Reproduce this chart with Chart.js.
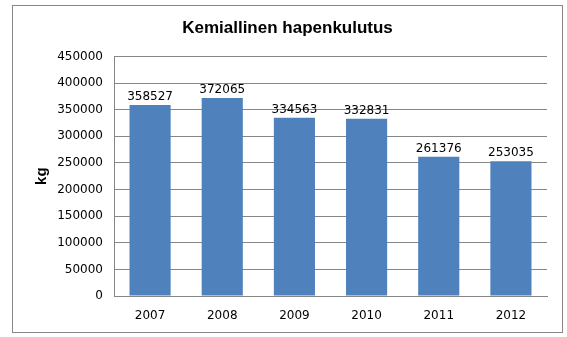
<!DOCTYPE html>
<html>
<head>
<meta charset="utf-8">
<script src="https://cdn.jsdelivr.net/npm/chart.js@4.4.1/dist/chart.umd.min.js"></script>
<style>
  html, body { margin: 0; padding: 0; background: #fff; }
  #box { position: absolute; left: 12px; top: 5px; width: 549px; height: 326px; border: 1px solid #888; box-sizing: content-box; }
  #box canvas { display: block; }
</style>
</head>
<body>
<div id="box"><canvas id="c" width="549" height="326"></canvas></div>
<script>
const categories = ["2007", "2008", "2009", "2010", "2011", "2012"];
const values = [358527, 372065, 334563, 332831, 261376, 253035];
const titleText = "Kemiallinen hapenkulutus";
const yAxisTitle = "kg";

const labelPlugin = {
  id: 'barLabels',
  afterDatasetsDraw(chart) {
    const ctx = chart.ctx;
    const meta = chart.getDatasetMeta(0);
    ctx.save();
    ctx.font = '12px "DejaVu Sans"';
    ctx.fillStyle = '#000';
    ctx.textAlign = 'center';
    ctx.textBaseline = 'bottom';
    meta.data.forEach((bar, i) => {
      ctx.fillText(String(values[i]), bar.x, bar.y - 2);
    });
    ctx.restore();
  }
};

new Chart(document.getElementById('c'), {
  type: 'bar',
  data: {
    labels: categories,
    datasets: [{
      data: values,
      backgroundColor: '#4F81BD',
      borderWidth: 0,
      categoryPercentage: 1,
      barPercentage: 0.57
    }]
  },
  options: {
    responsive: false,
    animation: false,
    layout: { padding: { left: 15, right: 15, top: 0, bottom: 0 } },
    plugins: {
      legend: { display: false },
      tooltip: { enabled: false },
      title: {
        display: true,
        text: titleText,
        color: '#000',
        font: { family: '"Liberation Sans"', size: 17, weight: 'bold' },
        padding: { top: 12, bottom: 18 }
      }
    },
    scales: {
      x: {
        afterFit(scale) { scale.height = 36; },
        grid: { display: false, drawTicks: false },
        border: { color: '#868686', width: 1 },
        ticks: { color: '#000', font: { family: '"DejaVu Sans"', size: 12 }, padding: 13 }
      },
      y: {
        min: 0, max: 450000,
        afterFit(scale) { scale.width = 86; },
        grid: { color: '#868686', drawTicks: false },
        border: { color: '#868686', width: 1 },
        ticks: {
          stepSize: 50000, color: '#000',
          font: { family: '"DejaVu Sans"', size: 12 }, padding: 11,
          callback: (v) => String(v)
        },
        title: {
          display: true,
          text: yAxisTitle,
          color: '#000',
          font: { family: '"Liberation Sans"', size: 15, weight: 'bold' },
          padding: { top: 5, bottom: 0 }
        }
      }
    }
  },
  plugins: [labelPlugin]
});
</script>
</body>
</html>
